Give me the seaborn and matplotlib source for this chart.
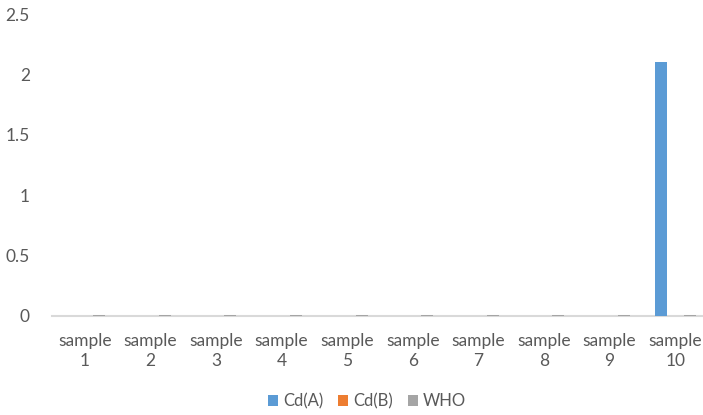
import matplotlib
matplotlib.use("Agg")
import matplotlib.pyplot as plt
import seaborn as sns
import pandas as pd
from matplotlib.patches import Patch

categories = [f"sample\n{i}" for i in range(1, 11)]
series_names = ["Cd(A)", "Cd(B)", "WHO"]
cd_a = [0, 0, 0, 0, 0, 0, 0, 0, 0, 2.1]
cd_b = [0, 0, 0, 0, 0, 0, 0, 0, 0, 0]
who = [0.01] * 10
colors = ["#5b9bd5", "#ed7d31", "#a5a5a5"]
yticks = [0, 0.5, 1, 1.5, 2, 2.5]

rows = []
for name, vals in zip(series_names, [cd_a, cd_b, who]):
    for c, v in zip(categories, vals):
        rows.append({"cat": c, "series": name, "value": v})
df = pd.DataFrame(rows)

sns.set_theme(style="white")
plt.rcParams["font.family"] = ["Lato", "DejaVu Sans"]
text_color = "#595959"

fig = plt.figure(figsize=(7.03, 4.15), dpi=100)
ax = fig.add_axes([0.074, 0.2386, 0.933, 0.7276])
sns.barplot(data=df, x="cat", y="value", hue="series", palette=colors,
            width=0.66, gap=0.17, ax=ax, legend=False, errorbar=None,
            saturation=1, linewidth=0, edgecolor="none")

ax.set_ylim(0, 2.5)
ax.set_yticks(yticks)
ax.set_yticklabels([f"{t:g}" for t in yticks])
ax.set_xlabel("")
ax.set_ylabel("")
for s in ["top", "right", "left"]:
    ax.spines[s].set_visible(False)
ax.spines["bottom"].set_color("#d9d9d9")
ax.spines["bottom"].set_linewidth(1.5)
ax.spines["bottom"].set_zorder(0)
ax.tick_params(axis="x", length=0, labelsize=12.5, colors=text_color, pad=12)
ax.tick_params(axis="y", length=0, labelsize=12.5, colors=text_color, pad=16)
for lab in ax.get_xticklabels():
    lab.set_linespacing(1.3)

handles = [Patch(facecolor=c, edgecolor="none") for c in colors]
fig.legend(handles, series_names, loc="center", bbox_to_anchor=(0.522, 0.033),
           ncol=3, frameon=False, fontsize=12, handlelength=0.6, handleheight=0.6,
           handletextpad=0.3, columnspacing=0.9, labelcolor=text_color)

fig.savefig("out.png", dpi=100)
